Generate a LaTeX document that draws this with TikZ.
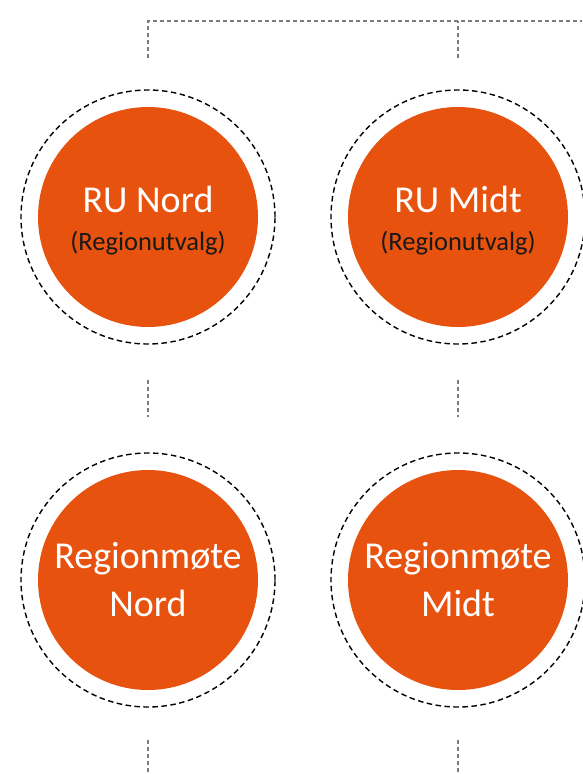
\documentclass[tikz,border=0pt]{standalone}
\usepackage{fontspec}
\setmainfont{Carlito}
\usetikzlibrary{positioning}
\definecolor{ruorange}{HTML}{E8520F}
\definecolor{linkgray}{HTML}{7A7A7A}
\newcommand{\subtxt}[1]{{\fontsize{26.5}{30}\selectfont\color{black!90}#1}}

\begin{document}
\begin{tikzpicture}[x=1pt,y=-1pt,
  unit/.style={circle,fill=ruorange,minimum size=220pt,inner sep=0pt,text=white,align=center,font=\fontsize{38}{48}\selectfont},
  ring/.style={circle,draw=black,dash pattern=on 5.5pt off 3.5pt,line width=1.4pt,minimum size=254pt,inner sep=0pt},
  link/.style={draw=linkgray,dash pattern=on 4pt off 3pt,line width=1.1pt}]
\useasboundingbox (0,0) rectangle (582,774);
% region units, one column per region
\foreach \reg/\x in {Nord/148,Midt/458}{
  \node[ring] (ring-ru-\reg) at (\x,217) {};
  \node[unit,label={[text=white,align=center,font=\fontsize{38}{48}\selectfont,yshift=-4pt]center:RU \reg\\[-10pt]\subtxt{(Regionutvalg)}}] (ru-\reg) at (\x,217) {};
  \node[ring] (ring-rm-\reg) at (\x,580) {};
  \node[unit] (rm-\reg) at (\x,580) {Regionmøte\\\reg};
  \coordinate (top-\reg) at (\x,58);
  \coordinate (mid-a-\reg) at (\x,380);
  \coordinate (mid-b-\reg) at (\x,417);
  \coordinate (low-a-\reg) at (\x,740);
  \coordinate (low-b-\reg) at (\x,774);
}
\coordinate (bus-end) at (582,21);
% connectors
\draw[link] (top-Nord) |- (bus-end);
\draw[link] (top-Midt) -- (top-Midt |- bus-end);
\foreach \reg in {Nord,Midt}{
  \draw[link] (mid-a-\reg) -- (mid-b-\reg);
  \draw[link] (low-a-\reg) -- (low-b-\reg);
}
\end{tikzpicture}
\end{document}
